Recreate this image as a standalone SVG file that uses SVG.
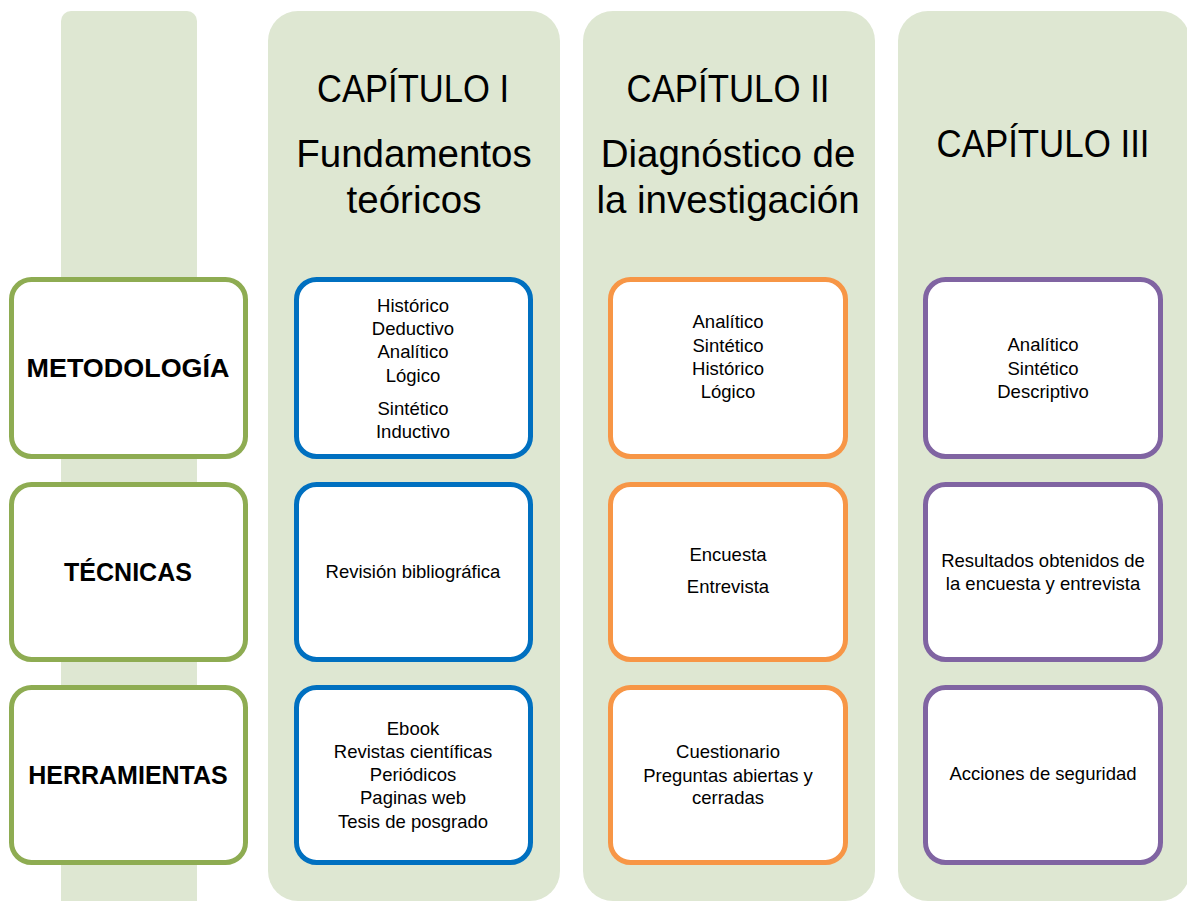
<svg xmlns="http://www.w3.org/2000/svg" width="1187" height="901" viewBox="0 0 1187 901">
<style>
.col{fill:#dee7d2}
.box{fill:#ffffff;stroke-width:5}
.g{stroke:#8eac52}
.b{stroke:#0070c0}
.o{stroke:#f79646}
.p{stroke:#8064a2}
.t{font-family:"Liberation Sans",Arial,sans-serif;font-size:18.5px;fill:#000;text-anchor:middle}
.h{font-family:"Liberation Sans",Arial,sans-serif;font-size:38.5px;fill:#000;text-anchor:middle}
.l{font-family:"Liberation Sans",Arial,sans-serif;font-size:25px;font-weight:bold;fill:#000;text-anchor:middle}
</style>
<rect width="1187" height="901" fill="#ffffff"/>
<g id="columns">
<rect class="col" x="61" y="11" width="136" height="900" rx="10"/>
<rect class="col" x="268" y="11" width="292" height="890" rx="30"/>
<rect class="col" x="583" y="11" width="292" height="890" rx="30"/>
<rect class="col" x="898" y="11" width="292" height="890" rx="30"/>
</g>
<g id="titles">
<g id="title1">
<text class="h" x="413" y="102" textLength="192" lengthAdjust="spacingAndGlyphs">CAPÍTULO I</text>
<text class="h" x="414" y="167">Fundamentos</text>
<text class="h" x="414" y="213">teóricos</text>
</g>
<g id="title2">
<text class="h" x="728" y="102" textLength="203" lengthAdjust="spacingAndGlyphs">CAPÍTULO II</text>
<text class="h" x="728" y="167">Diagnóstico de</text>
<text class="h" x="728" y="213">la investigación</text>
</g>
<g id="title3">
<text class="h" x="1043" y="157" textLength="213" lengthAdjust="spacingAndGlyphs">CAPÍTULO III</text>
</g>
</g>
<g id="metodologia">
<rect class="box g" x="11.5" y="279.5" width="234" height="177" rx="20"/>
<text class="l" x="128" y="377" textLength="203" lengthAdjust="spacingAndGlyphs">METODOLOGÍA</text>
</g>
<g id="tecnicas">
<rect class="box g" x="11.5" y="484.5" width="234" height="175" rx="20"/>
<text class="l" x="128" y="581">TÉCNICAS</text>
</g>
<g id="herramientas">
<rect class="box g" x="11.5" y="687.5" width="234" height="175" rx="20"/>
<text class="l" x="128" y="784">HERRAMIENTAS</text>
</g>
<g id="c1-metodologia">
<rect class="box b" x="296.5" y="279.5" width="234" height="177" rx="20"/>
<text class="t" x="413" y="311.5">Histórico</text>
<text class="t" x="413" y="335">Deductivo</text>
<text class="t" x="413" y="358">Analítico</text>
<text class="t" x="413" y="381.5">Lógico</text>
<text class="t" x="413" y="415">Sintético</text>
<text class="t" x="413" y="437.5">Inductivo</text>
</g>
<g id="c1-tecnicas">
<rect class="box b" x="296.5" y="484.5" width="234" height="175" rx="20"/>
<text class="t" x="413" y="578">Revisión bibliográfica</text>
</g>
<g id="c1-herramientas">
<rect class="box b" x="296.5" y="687.5" width="234" height="175" rx="20"/>
<text class="t" x="413" y="735">Ebook</text>
<text class="t" x="413" y="757.5">Revistas científicas</text>
<text class="t" x="413" y="780.5">Periódicos</text>
<text class="t" x="413" y="804">Paginas web</text>
<text class="t" x="413" y="827.5">Tesis de posgrado</text>
</g>
<g id="c2-metodologia">
<rect class="box o" x="610.5" y="279.5" width="235" height="177" rx="20"/>
<text class="t" x="728" y="328">Analítico</text>
<text class="t" x="728" y="351.5">Sintético</text>
<text class="t" x="728" y="375">Histórico</text>
<text class="t" x="728" y="398">Lógico</text>
</g>
<g id="c2-tecnicas">
<rect class="box o" x="610.5" y="484.5" width="235" height="175" rx="20"/>
<text class="t" x="728" y="561">Encuesta</text>
<text class="t" x="728" y="593">Entrevista</text>
</g>
<g id="c2-herramientas">
<rect class="box o" x="610.5" y="687.5" width="235" height="175" rx="20"/>
<text class="t" x="728" y="758">Cuestionario</text>
<text class="t" x="728" y="781.5">Preguntas abiertas y</text>
<text class="t" x="728" y="804">cerradas</text>
</g>
<g id="c3-metodologia">
<rect class="box p" x="925.5" y="279.5" width="235" height="177" rx="20"/>
<text class="t" x="1043" y="351">Analítico</text>
<text class="t" x="1043" y="374.5">Sintético</text>
<text class="t" x="1043" y="397.5">Descriptivo</text>
</g>
<g id="c3-tecnicas">
<rect class="box p" x="925.5" y="484.5" width="235" height="175" rx="20"/>
<text class="t" x="1043" y="567">Resultados obtenidos de</text>
<text class="t" x="1043" y="590">la encuesta y entrevista</text>
</g>
<g id="c3-herramientas">
<rect class="box p" x="925.5" y="687.5" width="235" height="175" rx="20"/>
<text class="t" x="1043" y="780">Acciones de seguridad</text>
</g>
</svg>
